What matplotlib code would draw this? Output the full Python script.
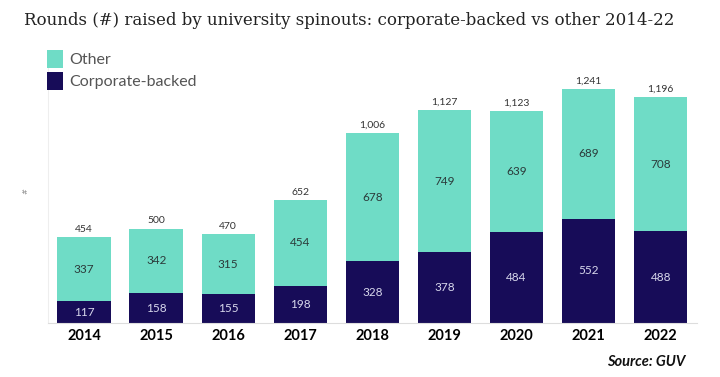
import matplotlib.pyplot as plt
import numpy as np

years = ['2014', '2015', '2016', '2017', '2018', '2019', '2020', '2021', '2022']
corporate = [117, 158, 155, 198, 328, 378, 484, 552, 488]
other = [337, 342, 315, 454, 678, 749, 639, 689, 708]
totals = [454, 500, 470, 652, 1006, 1127, 1123, 1241, 1196]

teal = '#6fdcc6'
navy = '#170c58'

fig = plt.figure(figsize=(7.2, 3.77), dpi=100)
ax = fig.add_axes([0.0667, 0.143, 0.901, 0.698])

x = np.arange(len(years))
w = 0.74
ax.bar(x, corporate, w, color=navy, label='Corporate-backed', zorder=2)
ax.bar(x, other, w, bottom=corporate, color=teal, label='Other', zorder=2)

for i in range(len(years)):
    ax.text(x[i], corporate[i] / 2, str(corporate[i]), ha='center', va='center',
            color='#d8d8ec', fontsize=8.5, family='Lato')
    ax.text(x[i], corporate[i] + other[i] / 2, str(other[i]), ha='center', va='center',
            color='#2b3a3a', fontsize=8.5, family='Lato')
    ax.text(x[i], totals[i] + 18, f'{totals[i]:,}', ha='center', va='bottom',
            color='#333333', fontsize=7.5, family='Lato')

ax.set_xlim(-0.5, 8.5)
ax.set_ylim(0, 1394)
ax.set_xticks(x)
ax.set_xticklabels(years, fontsize=10.5, fontweight='bold', family='Lato')
ax.tick_params(axis='x', length=0, pad=4)
ax.set_yticks([])
for s in ['top', 'right']:
    ax.spines[s].set_visible(False)
ax.spines['left'].set_color('#eeeeee')
ax.spines['bottom'].set_color('#dddddd')
ax.set_ylabel('#', fontsize=5, color='#888888', labelpad=14)

h, l = ax.get_legend_handles_labels()
leg = fig.legend(h[::-1], l[::-1], loc='upper left', bbox_to_anchor=(0.045, 0.905),
                 frameon=False, handlelength=1.0, handleheight=1.3, handletextpad=0.4,
                 labelspacing=0.3, prop={'family': 'Lato', 'size': 11.5})
for t in leg.get_texts():
    t.set_color('#555555')

fig.text(0.033, 0.945, 'Rounds (#) raised by university spinouts: corporate-backed vs other 2014-22',
         fontsize=12, family='DejaVu Serif', color='#222222', va='center')
fig.text(0.952, 0.04, 'Source: GUV', ha='right', va='center', fontsize=10.5,
         style='italic', fontweight='bold', family='Lato', color='#111111')

fig.savefig('out.png', dpi=100)
